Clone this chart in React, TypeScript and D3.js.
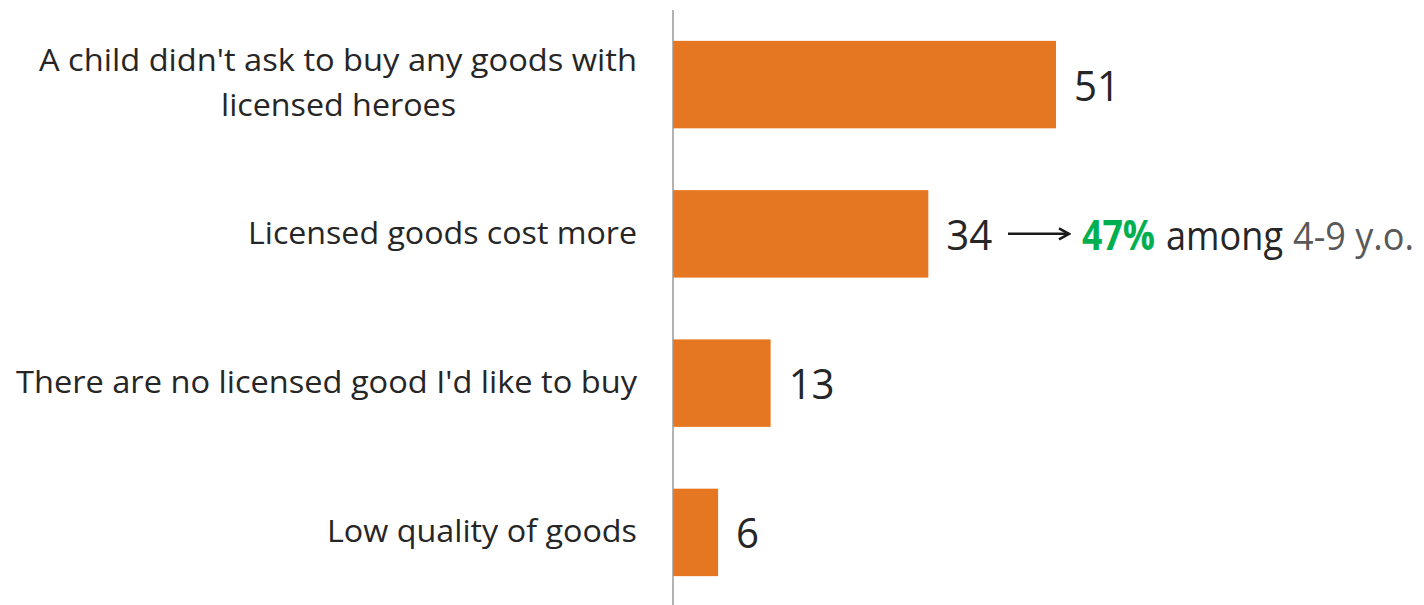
import React from "react";
import * as d3 from "d3";

const categories: string[][] = [
  ["A child didn't ask to buy any goods with", "licensed heroes"],
  ["Licensed goods cost more"],
  ["There are no licensed good I'd like to buy"],
  ["Low quality of goods"],
];
const values: number[] = [51, 34, 13, 6];
const labelWidths: number[][] = [[598, 235], [389], [621], [310]];
const annotationHighlight = "47%";
const annotationMiddle = "among";
const annotationTail = "4-9 y.o.";

const W = 1424;
const H = 605;
const axisX = 673;
const FONT = "'Open Sans', 'Noto Sans', sans-serif";

export default function App() {
  const ids = values.map((_, i) => String(i));
  const y = d3.scaleBand<string>().domain(ids).range([11, 606]).paddingInner(0.414).paddingOuter(0.2);
  const x = d3.scaleLinear().domain([0, 51]).range([axisX, 1056]);
  const bw = y.bandwidth();
  return (
    <svg width={W} height={H} style={{ position: "absolute", left: 0, top: 0, background: "#fff" }}>
      <defs>
        <marker id="arr" viewBox="0 0 14 14" refX="12" refY="7" markerWidth="14" markerHeight="14" markerUnits="userSpaceOnUse" orient="auto">
          <path d="M2,1.5 L12,7 L2,12.5" fill="none" stroke="#1a1a1a" strokeWidth="2.5" />
        </marker>
      </defs>
      {values.map((v, i) => {
        const y0 = y(String(i))!;
        const cy = y0 + bw / 2;
        const lines = categories[i];
        const lh = 45;
        const multi = lines.length > 1;
        return (
          <g key={i}>
            <rect x={x(0)} y={y0} width={x(v) - x(0)} height={bw} fill="#E67722" />
            {lines.map((t, j) => (
              <text
                key={j}
                x={multi && j === 1 ? (221 + 456) / 2 : 637}
                y={cy + 10 + (j - (lines.length - 1) / 2) * lh - (multi ? 1 : 0)}
                textAnchor={multi && j === 1 ? "middle" : "end"}
                fontFamily={FONT}
                fontSize={31}
                fill="#262626"
                textLength={labelWidths[i][j]}
                lengthAdjust="spacingAndGlyphs"
              >
                {t}
              </text>
            ))}
            <text x={x(v) + 18} y={cy + 16} fontFamily={FONT} fontSize={42} fill="#262626" textLength={String(v).length * 23} lengthAdjust="spacingAndGlyphs">
              {v}
            </text>
            {i === 1 && (
              <g>
                <line x1={1008} x2={1069} y1={cy} y2={cy} stroke="#1a1a1a" strokeWidth={2.5} markerEnd="url(#arr)" />
                <text x={1082} y={cy + 16} fontFamily={FONT} fontSize={41} fontWeight="bold" fill="#00B050" textLength={73} lengthAdjust="spacingAndGlyphs">
                  {annotationHighlight}
                </text>
                <text x={1166} y={cy + 16} fontFamily={FONT} fontSize={41} fill="#262626" textLength={117} lengthAdjust="spacingAndGlyphs">
                  {annotationMiddle}
                </text>
                <text x={1293} y={cy + 16} fontFamily={FONT} fontSize={38} fill="#595959" textLength={121} lengthAdjust="spacingAndGlyphs">
                  {annotationTail}
                </text>
              </g>
            )}
          </g>
        );
      })}
      <line x1={axisX} x2={axisX} y1={10} y2={H} stroke="#999" strokeWidth={1.5} />
    </svg>
  );
}
